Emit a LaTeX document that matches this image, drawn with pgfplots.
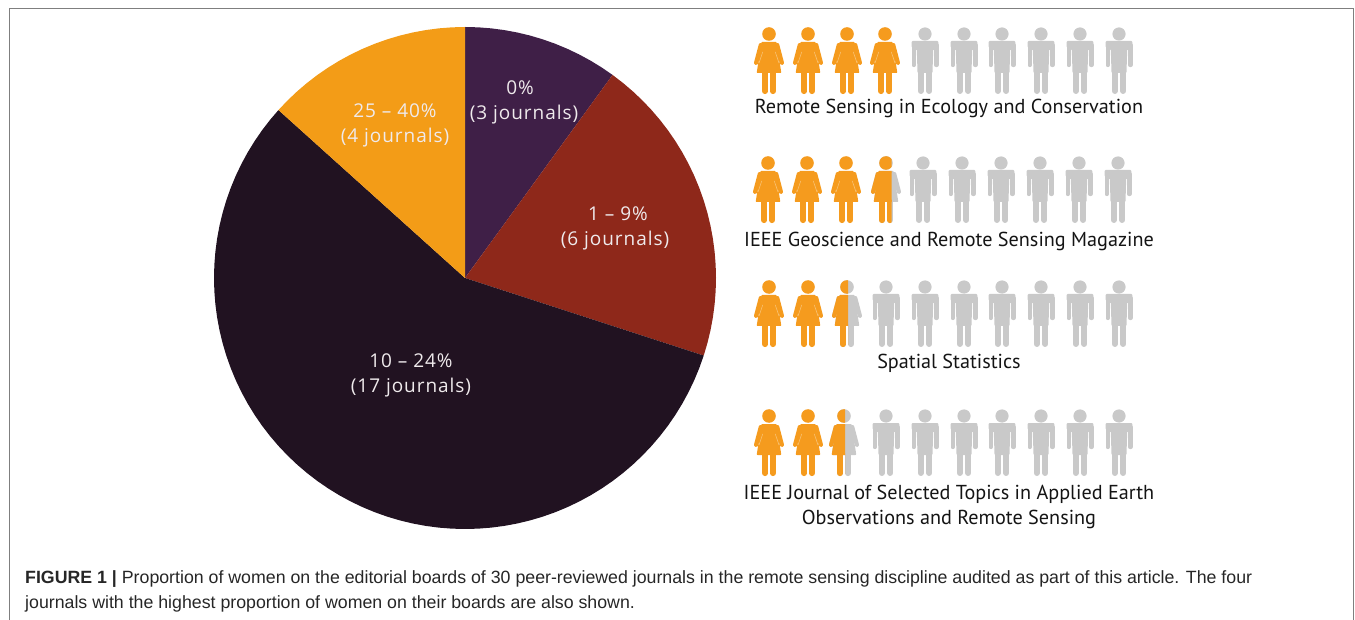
\documentclass[border=0pt]{standalone}
\usepackage{fontspec}
\setmainfont{Liberation Sans}
\newfontfamily\labelfont[LetterSpace=5]{Open Sans}
\newfontfamily\namefont{PT Sans}
\usepackage{pgfplots}
\pgfplotsset{compat=1.18}
\usepgfplotslibrary{polar}

\definecolor{slicepurple}{HTML}{3F1F47}
\definecolor{slicered}{HTML}{8E281A}
\definecolor{slicedark}{HTML}{211221}
\definecolor{sliceorange}{HTML}{F39C17}
\definecolor{iconorange}{HTML}{F59B1E}
\definecolor{icongray}{HTML}{C9C9C9}
\definecolor{iconline}{HTML}{F9C77E}
\definecolor{framegray}{HTML}{7F7F7F}
\definecolor{labelwhite}{HTML}{EFEAEC}

% icons, origin at the centre of the head, 1pt = 1px of the reference
\newcommand{\pt}[2]{\pgfqpoint{#1pt}{#2pt}}
\newcommand{\seg}[4]{\pgfpathmoveto{\pt{#1}{#2}}\pgfpathlineto{\pt{#3}{#4}}}
\newcommand{\womandraw}[1]{%
  \pgfsetfillcolor{#1}\pgfsetstrokecolor{#1}\pgfsetroundcap\pgfsetroundjoin
  \pgfpathcircle{\pgfpointorigin}{6.8pt}\pgfusepathqfill
  \pgfsetlinewidth{1.6pt}%
  \pgfpathmoveto{\pt{-6.8}{-8.8}}\pgfpathlineto{\pt{6.8}{-8.8}}%
  \pgfpathlineto{\pt{11.4}{-38.2}}\pgfpathlineto{\pt{-11.4}{-38.2}}\pgfpathclose
  \pgfusepathqfillstroke
  \pgfsetlinewidth{4.2pt}%
  \seg{8.2}{-11}{12.9}{-28.8}\seg{-8.2}{-11}{-12.9}{-28.8}\pgfusepathqstroke
  \pgfsetlinewidth{5.8pt}%
  \seg{3.9}{-39}{3.9}{-57.2}\seg{-3.9}{-39}{-3.9}{-57.2}\pgfusepathqstroke}
\newcommand{\womanlines}{%
  \pgfsetlinewidth{0.5pt}\pgfsetstrokecolor{iconline}%
  \seg{6.3}{-18}{10}{-29}\seg{-6.3}{-18}{-10}{-29}\pgfusepathqstroke}
\pgfdeclareplotmark{woman}{%
  \begin{pgfscope}\womandraw{iconorange}\womanlines\end{pgfscope}}
\pgfdeclareplotmark{man}{%
  \begin{pgfscope}
  \pgfsetfillcolor{icongray}\pgfsetstrokecolor{icongray}\pgfsetroundcap\pgfsetroundjoin
  \pgfpathcircle{\pgfpointorigin}{6.6pt}\pgfusepathqfill
  \pgfsetlinewidth{2pt}%
  \pgfpathmoveto{\pt{-12.4}{-8}}\pgfpathlineto{\pt{12.4}{-8}}\pgfpathlineto{\pt{12.4}{-12.5}}%
  \pgfpathlineto{\pt{7.2}{-15.5}}\pgfpathlineto{\pt{6.5}{-38}}\pgfpathlineto{\pt{-6.5}{-38}}%
  \pgfpathlineto{\pt{-7.2}{-15.5}}\pgfpathlineto{\pt{-12.4}{-12.5}}\pgfpathclose
  \pgfusepathqfillstroke
  \pgfsetlinewidth{4.4pt}%
  \seg{11.3}{-11}{11.3}{-31}\seg{-11.3}{-11}{-11.3}{-31}\pgfusepathqstroke
  \pgfsetlinewidth{6pt}%
  \seg{4.2}{-38}{4.2}{-57}\seg{-4.2}{-38}{-4.2}{-57}\pgfusepathqstroke
  \end{pgfscope}}
% a woman split: orange for #2 pt from x=-20, grey on the right
\newcommand{\splitwoman}[2]{%
  \pgfdeclareplotmark{#1}{%
    \begin{pgfscope}
    \womandraw{icongray}%
    \pgfpathrectangle{\pt{-20}{-70}}{\pt{#2}{90}}\pgfusepath{clip}%
    \womandraw{iconorange}%
    \end{pgfscope}}}
\splitwoman{womanB}{25.5}
\splitwoman{womanC}{21}

\newcommand{\pielabel}[3]{\node[anchor=base,text=labelwhite,font=\labelfont\fontsize{19}{19}\selectfont] at (axis cs:#1,#2) {#3};}
\newcommand{\jname}[2]{\node[anchor=base,text=black!92,font=\namefont\fontsize{20.2}{20.2}\selectfont] at (axis cs:949,#1) {#2};}

\begin{document}
\begin{tikzpicture}
\useasboundingbox (0,0) rectangle (1355pt,620pt);
% pie: 3, 6, 17 and 4 journals of 30, clockwise from the top; (angle, radius)
\begin{axis}[
  at={(214pt,91pt)}, anchor=south west,
  scale only axis, width=502pt, height=502pt,
  xmin=-1, xmax=1, ymin=-1, ymax=1,
  hide axis, clip=false,
]
\addplot[fill=slicepurple, draw=none, data cs=polar] coordinates {
  (0,0) (90,1) (87,1) (84,1) (81,1) (78,1) (75,1) (72,1) (69,1) (66,1) (63,1) (60,1) (57,1) (54,1)
} -- cycle;
\addplot[fill=slicered, draw=none, data cs=polar] coordinates {
  (0,0) (54,1) (51,1) (48,1) (45,1) (42,1) (39,1) (36,1) (33,1) (30,1) (27,1) (24,1) (21,1) (18,1)
  (15,1) (12,1) (9,1) (6,1) (3,1) (0,1) (-3,1) (-6,1) (-9,1) (-12,1) (-15,1) (-18,1)
} -- cycle;
\addplot[fill=slicedark, draw=none, data cs=polar] coordinates {
  (0,0) (-18,1) (-21,1) (-24,1) (-27,1) (-30,1) (-33,1) (-36,1) (-39,1) (-42,1) (-45,1) (-48,1)
  (-51,1) (-54,1) (-57,1) (-60,1) (-63,1) (-66,1) (-69,1) (-72,1) (-75,1) (-78,1) (-81,1) (-84,1)
  (-87,1) (-90,1) (-93,1) (-96,1) (-99,1) (-102,1) (-105,1) (-108,1) (-111,1) (-114,1) (-117,1)
  (-120,1) (-123,1) (-126,1) (-129,1) (-132,1) (-135,1) (-138,1) (-141,1) (-144,1) (-147,1)
  (-150,1) (-153,1) (-156,1) (-159,1) (-162,1) (-165,1) (-168,1) (-171,1) (-174,1) (-177,1)
  (-180,1) (-183,1) (-186,1) (-189,1) (-192,1) (-195,1) (-198,1) (-201,1) (-204,1) (-207,1)
  (-210,1) (-213,1) (-216,1) (-219,1) (-222,1)
} -- cycle;
\addplot[fill=sliceorange, draw=none, data cs=polar] coordinates {
  (0,0) (138,1) (135,1) (132,1) (129,1) (126,1) (123,1) (120,1) (117,1) (114,1) (111,1) (108,1)
  (105,1) (102,1) (99,1) (96,1) (93,1) (90,1)
} -- cycle;
\end{axis}

% everything else, in pixels of the reference
\begin{axis}[
  at={(0pt,0pt)}, anchor=south west,
  scale only axis, width=1355pt, height=620pt,
  xmin=0, xmax=1355, ymin=0, ymax=620, y dir=reverse,
  hide axis, clip=false,
]
\addplot[framegray, line width=1.3pt, mark=none] coordinates {
  (9.2,620) (9.2,8.8) (1353.8,8.8) (1353.8,620)
};
\addplot[only marks, mark=woman] coordinates {
  (769,34) (808,34) (847,34) (885,34)
  (768,163) (807,163) (846,163)
  (769,287) (808,287)
  (769,416) (808,416)
};
\addplot[only marks, mark=man] coordinates {
  (925,34) (964,34) (1002,34) (1041,34) (1080,34) (1119,34)
  (923,163) (962,163) (1001,163) (1040,163) (1079,163) (1118,163)
  (886,287) (925,287) (964,287) (1002,287) (1041,287) (1080,287) (1119,287)
  (886,416) (925,416) (964,416) (1002,416) (1041,416) (1080,416) (1119,416)
};
\addplot[only marks, mark=womanB] coordinates {(886,163)};
\addplot[only marks, mark=womanC] coordinates {(847,287) (844,416)};

\pielabel{520}{95}{0\%}
\pielabel{524}{120}{(3 journals)}
\pielabel{618}{221}{1 – 9\%}
\pielabel{615}{246}{(6 journals)}
\pielabel{411}{367}{10 – 24\%}
\pielabel{411}{392}{(17 journals)}
\pielabel{395}{118}{25 – 40\%}
\pielabel{395}{143}{(4 journals)}

\jname{114}{Remote Sensing in Ecology and Conservation}
\jname{247}{IEEE Geoscience and Remote Sensing Magazine}
\jname{369}{Spatial Statistics}
\jname{499}{IEEE Journal of Selected Topics in Applied Earth}
\jname{524}{Observations and Remote Sensing}

\node[anchor=base west,inner sep=0pt,font=\fontsize{17.75}{17.75}\selectfont,text=black!85] at (axis cs:25,583)
  {\textbf{FIGURE 1 |} Proportion of women on the editorial boards of 30 peer-reviewed journals in the remote sensing discipline audited as part of this article. The four};
\node[anchor=base west,inner sep=0pt,font=\fontsize{17.75}{17.75}\selectfont,text=black!85] at (axis cs:25,608)
  {journals with the highest proportion of women on their boards are also shown.};
\end{axis}
\end{tikzpicture}
\end{document}
